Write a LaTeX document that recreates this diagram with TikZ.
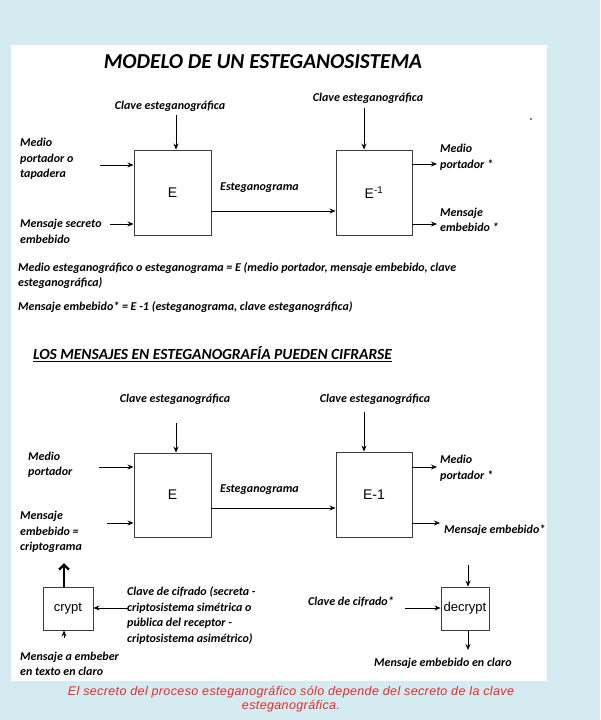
\documentclass[tikz,border=0pt]{standalone}
\usepackage{fontspec}
\setmainfont{Carlito}
\newfontfamily\arialfont{Liberation Sans}
\newfontfamily\capfont[LetterSpace=3]{Liberation Sans}
\usepackage{tikz}
\usetikzlibrary{arrows.meta,positioning,calc}
\definecolor{pageblue}{RGB}{212,235,241}
\definecolor{captionred}{RGB}{240,40,40}
\definecolor{boxedge}{RGB}{60,60,60}
\tikzset{
  lbl/.style={font=\bfseries\itshape\fontsize{12}{15.5}\selectfont,align=left,inner sep=0pt},
  lblc/.style={lbl,align=center},
  headline/.style={font=\bfseries\itshape\fontsize{21.3}{24}\selectfont,inner sep=0pt},
  subhead/.style={font=\bfseries\itshape\fontsize{15.5}{18}\selectfont,inner sep=0pt},
  blockbox/.style={rectangle,draw=boxedge,line width=0.9pt,fill=white,inner sep=0pt,font=\arialfont\fontsize{14}{16}\selectfont},
  cryptbox/.style={blockbox,font=\arialfont\fontsize{13}{15}\selectfont},
  arr/.style={->,>={Stealth[length=6pt,width=5pt]},line width=0.8pt,color=black},
  thickarr/.style={-{Straight Barb[length=5pt,width=10pt]},line width=2.4pt,color=black},
  captext/.style={font=\capfont\itshape\fontsize{12.5}{14}\selectfont,text=captionred,align=center,inner sep=0pt}
}
\begin{document}
\begin{tikzpicture}[x=1pt,y=-1pt]
  \useasboundingbox (0,0) rectangle (600,720);
  \fill[pageblue] (0,0) rectangle (600,720);
  \fill[white] (11,45) rectangle (547,681);

  \node[headline] (title) at (263,62) {MODELO DE UN ESTEGANOSISTEMA};

  % modelo
  \node[blockbox,minimum width=77pt,minimum height=85pt] (eA) at (172.5,192.5) {E};
  \node[blockbox,minimum width=76pt,minimum height=85pt] (dA) at (374,192.5) {E\textsuperscript{-1}};
  \node[lblc] (keyA) at (170,106) {Clave esteganográfica};
  \node[lblc] (keyAd) at (368,98) {Clave esteganográfica};
  \node[lbl,anchor=west] (medioA) at (20,159) {Medio\\portador o\\tapadera};
  \node[lbl,anchor=west] (msgA) at (20,231.5) {Mensaje secreto\\embebido};
  \node[lbl,anchor=west] (stegA) at (220,188) {Esteganograma};
  \node[lbl,anchor=west] (outA1) at (440,157) {Medio\\portador *};
  \node[lbl,anchor=west] (outA2) at (440,220) {Mensaje\\embebido *};
  \coordinate (inA1) at (100,165);
  \coordinate (inA2) at (110,224);
  \coordinate (tipA1) at (437,164);
  \coordinate (tipA2) at (437,224);
  \draw[arr] ([xshift=3.5pt]eA.north |- 0,115) -- ([xshift=3.5pt]eA.north);
  \draw[arr] ([xshift=-10pt]dA.north |- 0,108) -- ([xshift=-10pt]dA.north);
  \draw[arr] (inA1) -- (inA1 -| eA.west);
  \draw[arr] (inA2) -- (inA2 -| eA.west);
  \draw[arr] ([yshift=-18.5pt]eA.east) -- ([yshift=-18.5pt]eA.east -| dA.west);
  \draw[arr] (tipA1 -| dA.east) -- (tipA1);
  \draw[arr] (tipA2 -| dA.east) -- (tipA2);
  \fill (531,119) circle (0.9);

  \node[lbl,anchor=west] (defA) at (18,275.5) {Medio esteganográfico o esteganograma = E (medio portador, mensaje embebido, clave\\esteganográfica)};
  \node[lbl,anchor=west] (defB) at (18,307) {Mensaje embebido* = E -1 (esteganograma, clave esteganográfica)};

  % cifrado
  \node[subhead,anchor=west] (sub) at (33,354) {\underline{LOS MENSAJES EN ESTEGANOGRAFÍA PUEDEN CIFRARSE}};
  \node[blockbox,minimum width=77pt,minimum height=84pt] (eB) at (172.5,495) {E};
  \node[blockbox,minimum width=76pt,minimum height=85pt] (dB) at (374,494.5) {E-1};
  \node[lblc] (keyB) at (175,399) {Clave esteganográfica};
  \node[lblc] (keyBd) at (375,399) {Clave esteganográfica};
  \node[lbl,anchor=west] (medioB) at (28,464.5) {Medio\\portador};
  \node[lbl,anchor=west] (msgB) at (20,532) {Mensaje\\embebido =\\criptograma};
  \node[lbl,anchor=west] (stegB) at (220,490) {Esteganograma};
  \node[lbl,anchor=west] (outB1) at (440,468) {Medio\\portador *};
  \node[lbl,anchor=west] (outB2) at (444,530) {Mensaje embebido*};
  \coordinate (inB1) at (99,467);
  \coordinate (inB2) at (107,523);
  \coordinate (tipB1) at (437,467);
  \coordinate (tipB2) at (440,523);
  \draw[arr] ([xshift=3.5pt]eB.north |- 0,423) -- ([xshift=3.5pt]eB.north);
  \draw[arr] ([xshift=-10pt]dB.north |- 0,412) -- ([xshift=-10pt]dB.north);
  \draw[arr] (inB1) -- (inB1 -| eB.west);
  \draw[arr] (inB2) -- (inB2 -| eB.west);
  \draw[arr] ([yshift=-13pt]eB.east) -- ([yshift=-13pt]eB.east -| dB.west);
  \draw[arr] (tipB1 -| dB.east) -- (tipB1);
  \draw[arr] (tipB2 -| dB.east) -- (tipB2);

  \node[cryptbox,minimum width=50pt,minimum height=43pt] (crypt) at (68,608.5) {crypt};
  \node[cryptbox,minimum width=48pt,minimum height=43pt] (decrypt) at (465,608.5) {decrypt};
  \node[lbl,anchor=west] (plainA) at (20,664) {Mensaje a embeber\\en texto en claro};
  \node[lbl,anchor=west] (ckey) at (127,615.5) {Clave de cifrado (secreta -\\criptosistema simétrica o\\pública del receptor -\\criptosistema asimétrico)};
  \node[lbl,anchor=west] (dkey) at (308,602) {Clave de cifrado*};
  \node[lblc] (plainB) at (443,663) {Mensaje embebido en claro};
  \coordinate (cup) at (64,563);
  \coordinate (cin) at (64,638);
  \coordinate (ckeyend) at (128,608);
  \coordinate (dkeyend) at (405,608);
  \coordinate (din) at (468,565);
  \coordinate (dout) at (468,650);
  \draw[thickarr] (cup |- crypt.north) -- (cup);
  \draw[arr] (cin) -- (cin |- crypt.south);
  \draw[arr] (ckeyend) -- (ckeyend -| crypt.east);
  \draw[arr] (dkeyend) -- (dkeyend -| decrypt.west);
  \draw[arr] (din) -- (din |- decrypt.north);
  \draw[arr] (din |- decrypt.south) -- (dout);

  \node[captext] (caption) at (291,699) {El secreto del proceso esteganográfico sólo depende del secreto de la clave\\esteganográfica.};
\end{tikzpicture}
\end{document}
